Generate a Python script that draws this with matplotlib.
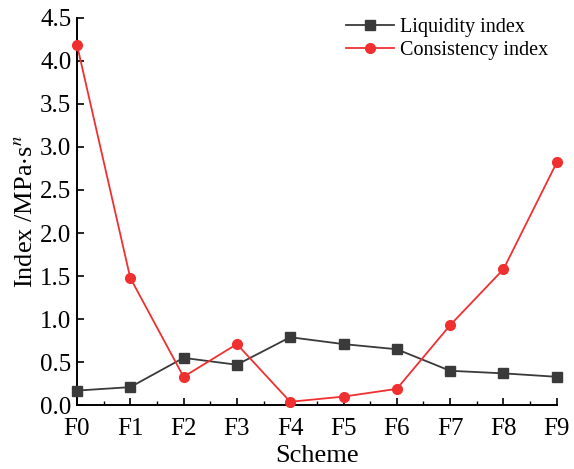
import matplotlib
matplotlib.use("Agg")
import matplotlib.pyplot as plt
from matplotlib.ticker import MultipleLocator, FormatStrFormatter

schemes = ["F0", "F1", "F2", "F3", "F4", "F5", "F6", "F7", "F8", "F9"]
liquidity = [0.17, 0.21, 0.55, 0.47, 0.79, 0.71, 0.65, 0.40, 0.37, 0.33]
consistency = [4.19, 1.48, 0.33, 0.71, 0.04, 0.10, 0.19, 0.93, 1.58, 2.82]

plt.rcParams["font.family"] = ["Liberation Serif", "DejaVu Serif"]
plt.rcParams["mathtext.fontset"] = "stix"

fig = plt.figure(figsize=(5.74, 4.69), dpi=100)
ax = fig.add_axes([0.134, 0.136, 0.836, 0.826])

x = list(range(len(schemes)))
ax.plot(x, liquidity, color="#3a3a3a", marker="s", markersize=6.5, lw=1.3,
        label="Liquidity index", clip_on=False, zorder=3)
ax.plot(x, consistency, color="#f03030", marker="o", markersize=7, lw=1.3,
        label="Consistency index", clip_on=False, zorder=3)

ax.set_xlim(0, 9)
ax.set_ylim(0, 4.5)
ax.set_xticks(x)
ax.set_xticklabels(schemes)
ax.xaxis.set_minor_locator(MultipleLocator(0.5))
ax.yaxis.set_major_locator(MultipleLocator(0.5))
ax.yaxis.set_major_formatter(FormatStrFormatter("%.1f"))

for side in ["top", "right"]:
    ax.spines[side].set_visible(False)
for side in ["left", "bottom"]:
    ax.spines[side].set_linewidth(1.4)

ax.tick_params(which="major", direction="in", length=5, width=1.2, labelsize=18)
ax.tick_params(axis="y", which="major", pad=4)
ax.tick_params(axis="x", which="major", pad=9)
ax.tick_params(which="minor", direction="in", length=3, width=1.0)

ax.set_xlabel("Scheme", fontsize=19, labelpad=4)
ax.set_ylabel(r"Index /MPa$\cdot$s$^n$", fontsize=19, labelpad=2)

ax.legend(loc="upper right", frameon=False, fontsize=14.5, handlelength=2.4,
          borderaxespad=0.0, labelspacing=0.2, handletextpad=0.3,
          bbox_to_anchor=(1.0, 1.02))

fig.savefig("out.png", dpi=100)
